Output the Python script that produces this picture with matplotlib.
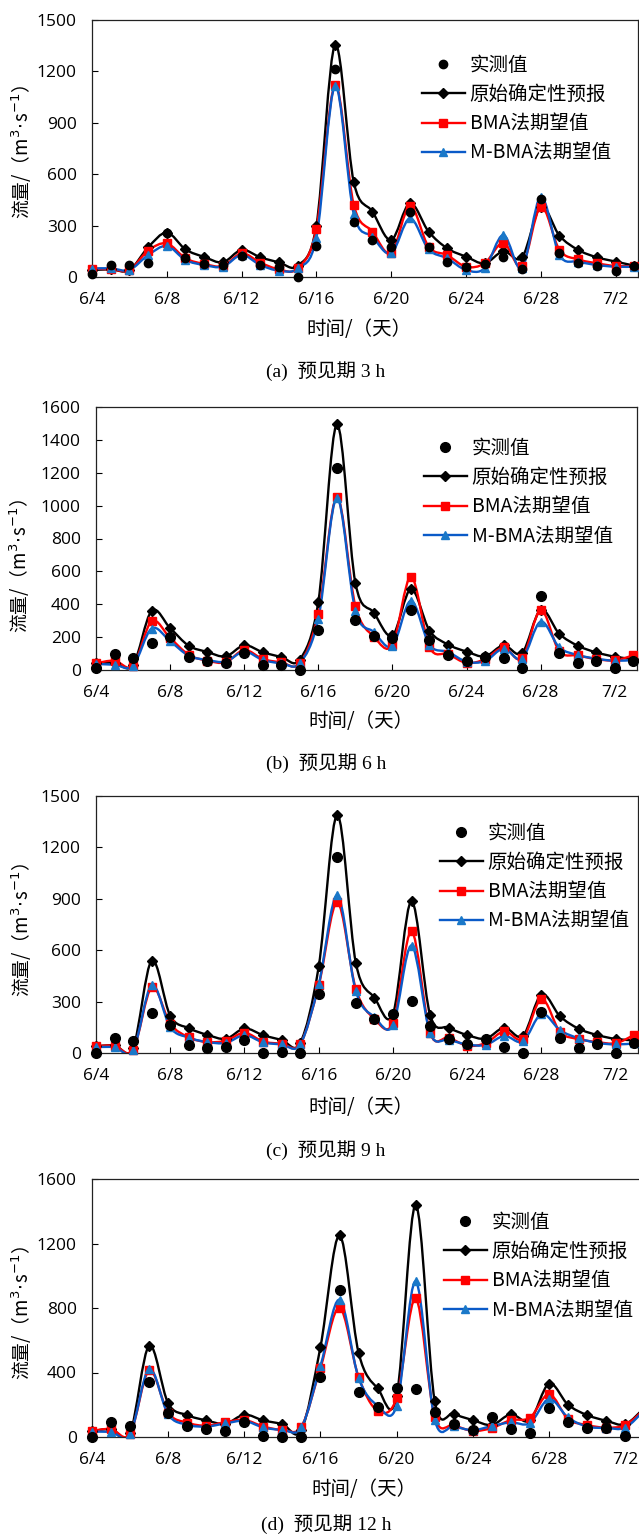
import numpy as np
import matplotlib
matplotlib.use("Agg")
import matplotlib.pyplot as plt
from matplotlib.path import Path
from matplotlib.patches import PathPatch
from matplotlib.lines import Line2D

# days 6/4 .. 7/3
days = np.arange(30)
tick_days = [0, 4, 8, 12, 16, 20, 24, 28]
tick_labels = ["6/4", "6/8", "6/12", "6/16", "6/20", "6/24", "6/28", "7/2"]

series_names = ["实测值", "原始确定性预报", "BMA法期望值", "M-BMA法期望值"]

# (a) lead time 3 h
obs_a = [20, 70, 68, 84, 254, 109, 76, 70, 123, 70, 60, 0, 181, 1214, 323,
         216, 173, 381, 173, 86, 60, 76, 119, 47, 455, 138, 84, 64, 35, 64]
fc_a = [40, 45, 40, 173, 259, 161, 117, 86, 158, 115, 86, 66, 300, 1354, 553,
        381, 216, 430, 265, 167, 119, 80, 150, 115, 410, 241, 158, 115, 90, 66]
bma_a = [49, 45, 41, 154, 196, 109, 76, 64, 138, 84, 45, 51, 280, 1120, 420,
         265, 140, 414, 177, 128, 60, 80, 200, 64, 410, 158, 103, 80, 64, 64]
mbma_a = [49, 51, 41, 128, 181, 99, 70, 60, 128, 70, 37, 51, 230, 1115, 368,
          235, 138, 342, 161, 109, 41, 51, 245, 51, 469, 128, 90, 70, 60, 60]

# (b) lead time 6 h
obs_b = [12, 99, 74, 165, 200, 79, 53, 45, 101, 33, 28, 2, 246, 1230, 302,
         206, 197, 368, 180, 89, 57, 79, 74, 13, 452, 103, 43, 56, 14, 53]
fc_b = [40, 45, 30, 359, 255, 148, 110, 83, 150, 108, 80, 63, 415, 1494, 530,
        348, 210, 492, 240, 155, 112, 83, 150, 104, 365, 221, 148, 107, 81, 66]
bma_b = [41, 57, 26, 296, 195, 93, 57, 47, 122, 67, 47, 41, 341, 1052, 390,
         203, 152, 567, 140, 97, 43, 66, 137, 71, 364, 115, 89, 66, 59, 89]
mbma_b = [37, 32, 26, 252, 175, 87, 61, 51, 112, 61, 41, 41, 311, 1048, 361,
          231, 146, 421, 153, 110, 51, 54, 130, 69, 294, 138, 91, 69, 56, 61]

# (c) lead time 9 h
obs_c = [0, 90, 71, 233, 162, 46, 28, 34, 77, 0, 7, 0, 345, 1145, 290,
         198, 228, 305, 156, 82, 55, 82, 37, 0, 237, 88, 27, 53, 0, 56]
fc_c = [40, 45, 31, 539, 217, 145, 106, 83, 143, 104, 77, 58, 506, 1390, 525,
        323, 228, 886, 222, 148, 105, 84, 148, 100, 341, 214, 142, 105, 82, 74]
bma_c = [40, 43, 18, 383, 171, 91, 64, 72, 118, 67, 55, 52, 395, 879, 373,
         200, 177, 710, 118, 90, 43, 58, 127, 84, 315, 123, 81, 64, 57, 106]
mbma_c = [35, 34, 15, 397, 150, 90, 64, 59, 104, 62, 51, 50, 400, 920, 360,
          210, 162, 627, 116, 78, 50, 47, 100, 68, 228, 133, 86, 59, 50, 56]

# (d) lead time 12 h
obs_d = [2, 92, 67, 343, 148, 67, 48, 40, 95, 6, 1, 1, 370, 912, 281,
         185, 305, 295, 157, 82, 43, 121, 47, 26, 177, 92, 55, 53, 6, 60]
fc_d = [36, 50, 25, 566, 209, 136, 103, 82, 138, 103, 80, 45, 560, 1250, 523,
        302, 252, 1440, 223, 145, 105, 75, 141, 103, 330, 200, 136, 101, 79, 180]
bma_d = [38, 50, 19, 413, 150, 89, 70, 92, 106, 65, 45, 65, 429, 802, 372,
         163, 243, 859, 123, 74, 38, 56, 105, 120, 266, 112, 74, 58, 74, 170]
mbma_d = [32, 32, 16, 423, 140, 76, 65, 84, 100, 59, 45, 61, 441, 851, 367,
          195, 195, 965, 106, 67, 43, 68, 91, 86, 236, 121, 65, 56, 58, 165]

W, H = 639, 1534
CJK = ["Noto Sans CJK SC", "DejaVu Sans"]
NUM = ["Open Sans", "DejaVu Sans"]
SERIF = ["Liberation Serif", "Noto Sans CJK SC"]

BLACK = "#000000"
RED = "#FF0000"
BLUE_LINE = "#0A5AC8"
BLUE_MK = "#1A78C8"


def smooth_path(x, y):
    """Excel-like smoothed line (Catmull-Rom as cubic Bezier)."""
    pts = np.column_stack([x, y]).astype(float)
    n = len(pts)
    verts = [pts[0]]
    codes = [Path.MOVETO]
    for i in range(n - 1):
        p0 = pts[i - 1] if i > 0 else pts[i]
        p1 = pts[i]
        p2 = pts[i + 1]
        p3 = pts[i + 2] if i + 2 < n else pts[i + 1]
        verts += [p1 + (p2 - p0) / 6, p2 - (p3 - p1) / 6, p2]
        codes += [Path.CURVE4] * 3
    return Path(verts, codes)


def fig_xy(px, py):
    return px / W, 1 - py / H


fig = plt.figure(figsize=(W / 100, H / 100), dpi=100)

# data, ymax, ystep, box(l, t, r, b), obs marker size, legend(x, y),
# ylabel(x, y), xlabel y, caption y, caption
panels = [
    ((obs_a, fc_a, bma_a, mbma_a), 1500, 300, (92, 20, 638, 277), 6.0,
     (422, 55), (22, 152), 330, 371, "(a)  预见期 3 h"),
    ((obs_b, fc_b, bma_b, mbma_b), 1600, 200, (96, 407, 637, 670), 7.0,
     (424, 438), (20, 566), 721, 763, "(b)  预见期 6 h"),
    ((obs_c, fc_c, bma_c, mbma_c), 1500, 300, (96, 796, 638, 1053), 7.0,
     (440, 823), (22, 930), 1107, 1150, "(c)  预见期 9 h"),
    ((obs_d, fc_d, bma_d, mbma_d), 1600, 400, (92, 1179, 648, 1437), 7.0,
     (444, 1212), (22, 1313), 1489, 1524, "(d)  预见期 12 h"),
]

for data, ymax, ystep, box, obs_ms, leg_xy, ylab_xy, xlab_y, cap_y, caption in panels:
    obs, fc, bma, mbma = data
    l, t, r, b = box
    x0, y0 = fig_xy(l, b)
    ax = fig.add_axes([x0, y0, (r - l) / W, (b - t) / H])

    for vals, color, mk, ms, mfc in [
        (fc, BLACK, "D", 4.8, BLACK),
        (bma, RED, "s", 5.3, RED),
        (mbma, BLUE_LINE, "^", 6.3, BLUE_MK),
    ]:
        patch = PathPatch(smooth_path(days, vals), facecolor="none",
                          edgecolor=color, lw=1.7, zorder=2)
        ax.add_patch(patch)
        ax.plot(days, vals, linestyle="none", marker=mk, ms=ms,
                mfc=mfc, mec=mfc, zorder=3, clip_on=False)
    ax.plot(days, obs, linestyle="none", marker="o", ms=obs_ms,
            color=BLACK, zorder=4, clip_on=False)

    ax.set_xlim(0, 29.2)
    ax.set_ylim(0, ymax)
    ax.set_xticks(tick_days)
    ax.set_xticklabels(tick_labels)
    ax.set_yticks(np.arange(0, ymax + 1, ystep))
    ax.tick_params(direction="in", length=4, width=0.8, labelsize=12.5)
    ax.tick_params(axis="x", pad=11)
    ax.tick_params(axis="y", pad=11)
    for lab in ax.get_xticklabels() + ax.get_yticklabels():
        lab.set_family(NUM)
    for sp in ax.spines.values():
        sp.set_linewidth(0.9)
        sp.set_color("#222222")

    handles = [
        Line2D([], [], linestyle="none", marker="o", ms=obs_ms, color=BLACK),
        Line2D([], [], color=BLACK, lw=1.7, marker="D", ms=4.8),
        Line2D([], [], color=RED, lw=1.7, marker="s", ms=5.3),
        Line2D([], [], color=BLUE_LINE, lw=1.7, marker="^", ms=6.3,
               mfc=BLUE_MK, mec=BLUE_MK),
    ]
    ax.legend(handles, series_names, loc="upper left",
              bbox_to_anchor=fig_xy(*leg_xy), bbox_transform=fig.transFigure,
              frameon=False, borderpad=0, borderaxespad=0,
              handlelength=2.2, handletextpad=0.25, labelspacing=0.42,
              prop={"family": CJK, "size": 14})

    fig.text(*fig_xy(*ylab_xy), r"流量/（m$^{3}\!\cdot\!$s$^{-1}$）", rotation=90,
             ha="center", va="center", family=CJK, fontsize=13.5)
    fig.text(*fig_xy((l + r) / 2 - 6, xlab_y), "时间/（天）",
             ha="center", va="center", family=CJK, fontsize=14)
    fig.text(*fig_xy(326, cap_y), caption,
             ha="center", va="center", family=SERIF, fontsize=14)

fig.savefig("out.png", dpi=100)
